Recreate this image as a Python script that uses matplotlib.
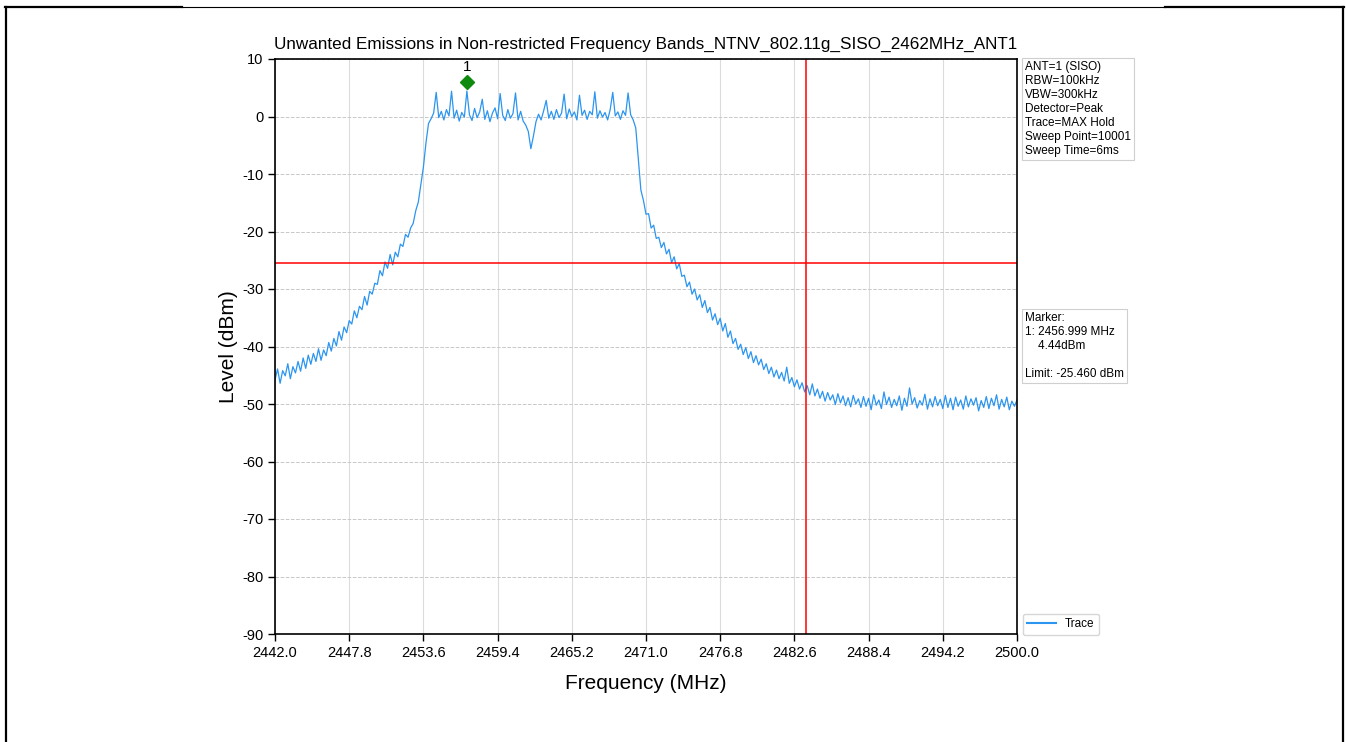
import numpy as np
import matplotlib
matplotlib.use("Agg")
import matplotlib.pyplot as plt
from matplotlib.lines import Line2D

plt.rcParams['font.family'] = ['Liberation Sans', 'DejaVu Sans']
plt.rcParams['axes.unicode_minus'] = False

# ---------------- data ----------------
f_start, f_stop = 2442.0, 2500.0
level_dbm = [
    # 2442.0 - 2443.8
    -45.8, -43.9, -46.4, -44.2, -45.1, -43.0, -45.6, -43.5, -44.6, -42.6,
    # 2444.0 - 2445.8
    -44.3, -42.0, -43.8, -41.5, -43.1, -41.2, -42.6, -40.4, -42.4, -40.6,
    # 2446.0 - 2447.8
    -41.6, -39.3, -40.8, -38.6, -39.9, -37.4, -38.9, -36.6, -37.6, -35.5,
    # 2448.0 - 2449.8
    -36.1, -33.8, -35.0, -33.0, -33.6, -31.3, -32.8, -30.4, -30.9, -29.0,
    # 2450.0 - 2451.8
    -29.2, -26.8, -27.7, -25.3, -26.4, -24.0, -25.8, -23.6, -24.4, -22.2,
    # 2452.0 - 2453.8
    -22.6, -20.5, -21.0, -19.4, -18.6, -16.4, -14.9, -11.8, -8.8, -4.6,
    # 2454.0 - 2455.8
    -1.2, -0.4, 0.6, 4.2, -0.2, 0.9, -0.6, 1.2, 0.1, 4.4,
    # 2456.0 - 2457.8
    -0.3, 1.1, -0.8, 0.7, -0.1, 4.44, 0.3, -0.7, 1.4, -0.2,
    # 2458.0 - 2459.8
    0.8, 3.0, -0.5, 1.0, -0.9, 0.6, 1.5, -0.4, 4.0, 0.2,
    # 2460.0 - 2461.8
    -0.7, 1.2, -0.3, 0.5, 4.1, -0.6, 0.9, -0.8, -1.5, -2.6,
    # 2462.0 - 2463.8
    -5.6, -3.4, -0.9, 0.4, -0.6, 1.0, 2.8, -0.3, 0.9, -0.5,
    # 2464.0 - 2465.8
    1.2, -0.2, 0.6, 3.9, -0.4, 1.3, 0.0, 0.8, -0.6, 3.7,
    # 2466.0 - 2467.8
    0.2, 1.1, -0.5, 0.9, 0.3, 4.3, -0.3, 1.0, -0.1, 0.7,
    # 2468.0 - 2469.8
    -0.6, 1.2, 4.2, 0.1, 0.8, -0.5, 1.0, 0.2, 4.1, 0.3,
    # 2470.0 - 2471.8
    -0.6, -2.0, -7.5, -12.8, -14.6, -17.0, -16.9, -19.4, -18.9, -21.2,
    # 2472.0 - 2473.8
    -21.0, -22.8, -21.9, -23.9, -23.1, -25.4, -24.4, -26.5, -25.6, -27.8,
    # 2474.0 - 2475.8
    -27.6, -29.6, -28.8, -30.9, -30.0, -31.9, -31.0, -33.2, -32.0, -34.1,
    # 2476.0 - 2477.8
    -33.2, -35.4, -34.3, -36.2, -35.1, -37.3, -36.0, -38.4, -37.3, -39.5,
    # 2478.0 - 2479.8
    -38.6, -40.5, -39.6, -41.4, -40.2, -42.1, -40.9, -42.8, -41.6, -43.2,
    # 2480.0 - 2481.8
    -42.2, -44.0, -43.0, -44.7, -43.6, -45.3, -44.1, -45.6, -44.5, -46.0,
    # 2482.0 - 2483.8
    -43.6, -46.4, -45.4, -47.0, -45.8, -47.4, -46.3, -47.9, -46.8, -48.4,
    # 2484.0 - 2485.8
    -46.5, -48.6, -47.4, -49.0, -47.8, -49.5, -48.0, -49.3, -48.4, -50.1,
    # 2486.0 - 2487.8
    -48.2, -49.8, -48.6, -50.3, -48.9, -50.5, -48.5, -50.0, -49.1, -50.6,
    # 2488.0 - 2489.8
    -48.7, -50.4, -49.0, -51.0, -48.4, -50.2, -49.3, -50.8, -47.9, -50.1,
    # 2490.0 - 2491.8
    -48.8, -50.6, -49.2, -50.3, -48.6, -51.1, -49.0, -50.4, -47.2, -50.0,
    # 2492.0 - 2493.8
    -48.9, -50.7, -49.4, -50.2, -48.3, -50.9, -49.1, -50.5, -48.7, -50.3,
    # 2494.0 - 2495.8
    -49.2, -50.8, -48.5, -50.6, -49.0, -51.0, -48.8, -50.4, -49.3, -50.9,
    # 2496.0 - 2497.8
    -48.6, -50.5, -49.1, -50.2, -48.9, -51.2, -49.4, -50.6, -48.7, -50.8,
    # 2498.0 - 2499.8
    -49.0, -50.3, -48.4, -50.9, -49.2, -50.5, -48.8, -51.0, -49.5, -50.4,
    # 2500.0
    -49.3,
]
freq_mhz = np.linspace(f_start, f_stop, len(level_dbm))

limit_dbm = -25.460
edge_freq = 2483.5
marker_freq = 2456.999
marker_level = 4.44
x_ticks = [2442.0, 2447.8, 2453.6, 2459.4, 2465.2, 2471.0, 2476.8, 2482.6, 2488.4, 2494.2, 2500.0]
y_ticks = [10, 0, -10, -20, -30, -40, -50, -60, -70, -80, -90]

title = "Unwanted Emissions in Non-restricted Frequency Bands_NTNV_802.11g_SISO_2462MHz_ANT1"
info_text = "ANT=1 (SISO)\nRBW=100kHz\nVBW=300kHz\nDetector=Peak\nTrace=MAX Hold\nSweep Point=10001\nSweep Time=6ms"
marker_text = "Marker:\n1: 2456.999 MHz\n    4.44dBm\n\nLimit: -25.460 dBm"

# ---------------- figure ----------------
W, H = 1346, 742
fig = plt.figure(figsize=(W / 100, H / 100), dpi=100)
ax = fig.add_axes([275 / W, 1 - 634 / H, (1017 - 275) / W, (634 - 59) / H])

ax.plot(freq_mhz, level_dbm, color='#2b95f0', lw=0.9, label='Trace')
ax.axhline(limit_dbm, color='red', lw=1.1)
ax.axvline(edge_freq, color='red', lw=1.1)

ax.plot([marker_freq], [marker_level + 1.6], marker='D', color='#0e8a0e',
        markersize=7, linestyle='none')
ax.text(marker_freq, marker_level + 3.0, "1", ha='center', va='bottom', fontsize=11)

ax.set_xlim(f_start, f_stop)
ax.set_ylim(-90, 10)
ax.set_xticks(x_ticks)
ax.set_xticklabels([f"{t:.1f}" for t in x_ticks])
ax.set_yticks(y_ticks)
ax.tick_params(axis='both', labelsize=10.5, direction='out', length=5, width=1)
ax.grid(axis='x', color='#dcdcdc', lw=0.8, ls='-')
ax.grid(axis='y', color='#c8c8c8', lw=0.7, ls='--')
ax.set_axisbelow(True)
for s in ax.spines.values():
    s.set_linewidth(1.2)

ax.set_title(title, fontsize=12.3, pad=7)
ax.set_xlabel("Frequency (MHz)", fontsize=15, labelpad=10)
ax.set_ylabel("Level (dBm)", fontsize=15, labelpad=3)

box = dict(boxstyle='square,pad=0.25', fc='white', ec='#cfcfcf', lw=0.8)
fig.text(1025 / W, 1 - 61 / H, info_text, ha='left', va='top', fontsize=8.5,
         linespacing=1.22, bbox=box)
fig.text(1025 / W, 1 - 312 / H, marker_text, ha='left', va='top', fontsize=8.5,
         linespacing=1.22, bbox=box)

leg = ax.legend(loc='lower left', bbox_to_anchor=(1.003, -0.008), fontsize=8.5,
                frameon=True, borderaxespad=0.3, handlelength=2.4)
leg.get_lines()[0].set_linewidth(1.5)

# document frame lines
yt = 1 - 6.5 / H
fig.add_artist(Line2D([5 / W, 182 / W], [yt, yt], color='black', lw=1.6, transform=fig.transFigure))
fig.add_artist(Line2D([182 / W, 1165 / W], [yt, yt], color='black', lw=0.8, transform=fig.transFigure))
fig.add_artist(Line2D([1165 / W, 1344 / W], [yt, yt], color='black', lw=1.6, transform=fig.transFigure))
fig.add_artist(Line2D([6 / W, 6 / W], [0, yt], color='black', lw=1.6, transform=fig.transFigure))
fig.add_artist(Line2D([1343 / W, 1343 / W], [0, yt], color='black', lw=1.6, transform=fig.transFigure))

fig.savefig("out.png", dpi=100)
